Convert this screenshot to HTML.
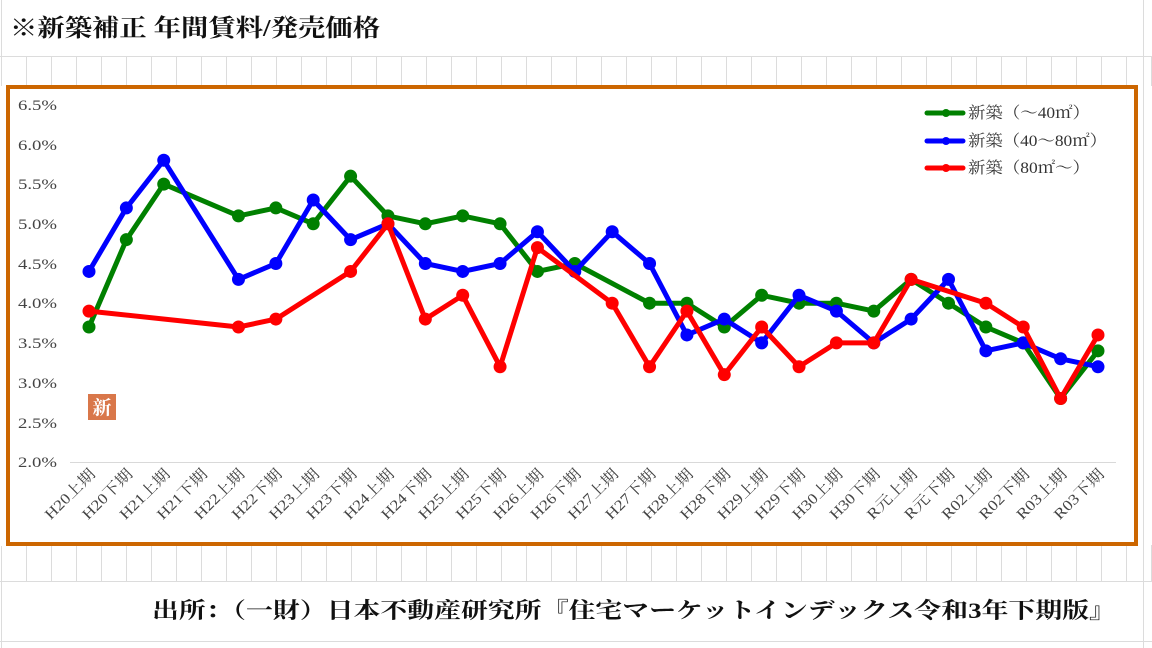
<!DOCTYPE html>
<html><head><meta charset="utf-8"><style>
body{margin:0;width:1152px;height:648px;overflow:hidden;background:#fff;font-family:"Liberation Serif","Noto Serif CJK SC","Noto Sans CJK JP",serif;}
</style></head><body>
<svg width="1152" height="648" viewBox="0 0 1152 648" xmlns="http://www.w3.org/2000/svg" style="position:absolute;left:0;top:0">
<defs>
<pattern id="g" x="1" y="0" width="25" height="648" patternUnits="userSpaceOnUse"><line x1="0.5" y1="0" x2="0.5" y2="648" stroke="#dcdcdc" stroke-width="1"/></pattern>
</defs>
<rect x="0" y="56" width="1152" height="30" fill="url(#g)"/>
<rect x="0" y="545" width="1152" height="36" fill="url(#g)"/>
<g stroke="#dcdcdc" stroke-width="1">
<line x1="0" y1="56.5" x2="1152" y2="56.5"/>
<line x1="0" y1="581.5" x2="1152" y2="581.5"/>
<line x1="0" y1="641.5" x2="1152" y2="641.5"/>
<line x1="1143.5" y1="0" x2="1143.5" y2="648"/>
<line x1="1.5" y1="0" x2="1.5" y2="648"/>
</g>
<text x="10" y="36" font-size="24" font-weight="bold" fill="#111" textLength="370" lengthAdjust="spacingAndGlyphs">※新築補正 年間賃料/発売価格</text>
<rect x="0" y="86" width="1143" height="460" fill="#fff"/>
<rect x="8" y="87" width="1128" height="457" fill="#fff" stroke="#CC6600" stroke-width="4"/>
<g font-size="15" fill="#444">
<text x="18" y="110" textLength="39" lengthAdjust="spacingAndGlyphs">6.5%</text><text x="18" y="150" textLength="39" lengthAdjust="spacingAndGlyphs">6.0%</text><text x="18" y="189" textLength="39" lengthAdjust="spacingAndGlyphs">5.5%</text><text x="18" y="229" textLength="39" lengthAdjust="spacingAndGlyphs">5.0%</text><text x="18" y="269" textLength="39" lengthAdjust="spacingAndGlyphs">4.5%</text><text x="18" y="308" textLength="39" lengthAdjust="spacingAndGlyphs">4.0%</text><text x="18" y="348" textLength="39" lengthAdjust="spacingAndGlyphs">3.5%</text><text x="18" y="388" textLength="39" lengthAdjust="spacingAndGlyphs">3.0%</text><text x="18" y="428" textLength="39" lengthAdjust="spacingAndGlyphs">2.5%</text><text x="18" y="467" textLength="39" lengthAdjust="spacingAndGlyphs">2.0%</text>
</g>
<line x1="70" y1="462.5" x2="1116" y2="462.5" stroke="#d9d9d9" stroke-width="1"/>
<rect x="88" y="394" width="28" height="26" fill="#d9774a"/>
<text x="102" y="414" font-size="19" font-weight="bold" fill="#fff" text-anchor="middle">新</text>
<g id="lab" font-size="15" fill="#444" text-anchor="end"></g>
<g id="series"></g>
<g font-size="16" fill="#333">
<line x1="927" y1="113" x2="963" y2="113" stroke="#008000" stroke-width="5" stroke-linecap="round"/><circle cx="946" cy="113" r="4" fill="#008000"/>
<text x="968" y="118" textLength="122" lengthAdjust="spacingAndGlyphs">新築（～40㎡）</text>
<line x1="927" y1="141" x2="963" y2="141" stroke="#0000ff" stroke-width="5" stroke-linecap="round"/><circle cx="946" cy="141" r="4" fill="#0000ff"/>
<text x="968" y="146" textLength="139" lengthAdjust="spacingAndGlyphs">新築（40～80㎡）</text>
<line x1="927" y1="168" x2="963" y2="168" stroke="#ff0000" stroke-width="5" stroke-linecap="round"/><circle cx="946" cy="168" r="4" fill="#ff0000"/>
<text x="968" y="173" textLength="122" lengthAdjust="spacingAndGlyphs">新築（80㎡～）</text>
</g>
<text x="152" y="618" font-size="22" font-weight="bold" fill="#111" textLength="964" lengthAdjust="spacingAndGlyphs">出所：（一財）日本不動産研究所『住宅マーケットインデックス令和3年下期版』</text>
</svg>
<script>
var labs=["H20上期","H20下期","H21上期","H21下期","H22上期","H22下期","H23上期","H23下期","H24上期","H24下期","H25上期","H25下期","H26上期","H26下期","H27上期","H27下期","H28上期","H28下期","H29上期","H29下期","H30上期","H30下期","R元上期","R元下期","R02上期","R02下期","R03上期","R03下期"];
var n=null;
var G=[3.7,4.8,5.5,n,5.1,5.2,5.0,5.6,5.1,5.0,5.1,5.0,4.4,4.5,n,4.0,4.0,3.7,4.1,4.0,4.0,3.9,4.3,4.0,3.7,3.5,2.8,3.4];
var B=[4.4,5.2,5.8,n,4.3,4.5,5.3,4.8,5.0,4.5,4.4,4.5,4.9,4.4,4.9,4.5,3.6,3.8,3.5,4.1,3.9,3.5,3.8,4.3,3.4,3.5,3.3,3.2];
var R=[3.9,n,n,n,3.7,3.8,n,4.4,5.0,3.8,4.1,3.2,4.7,n,4.0,3.2,3.9,3.1,3.7,3.2,3.5,3.5,4.3,n,4.0,3.7,2.8,3.6];
function X(i){return 89+37.37*i}function Y(v){return 462-(v-2)*79.4}
var ns="http://www.w3.org/2000/svg";
var lg=document.getElementById("lab");
labs.forEach(function(l,i){var t=document.createElementNS(ns,"text");var x=X(i)+7,y=475;t.setAttribute("x",x);t.setAttribute("y",y);t.setAttribute("textLength","64");t.setAttribute("lengthAdjust","spacingAndGlyphs");t.setAttribute("transform","rotate(-45 "+x+" "+y+")");t.textContent=l;lg.appendChild(t);});
var sg=document.getElementById("series");
[[G,"#008000"],[B,"#0000ff"],[R,"#ff0000"]].forEach(function(s){var d=[];s[0].forEach(function(v,i){if(v!==null)d.push(X(i).toFixed(1)+","+Y(v).toFixed(1))});
var p=document.createElementNS(ns,"polyline");p.setAttribute("points",d.join(" "));p.setAttribute("fill","none");p.setAttribute("stroke",s[1]);p.setAttribute("stroke-width","5");p.setAttribute("stroke-linejoin","round");sg.appendChild(p);
s[0].forEach(function(v,i){if(v===null)return;var c=document.createElementNS(ns,"circle");c.setAttribute("cx",X(i));c.setAttribute("cy",Y(v));c.setAttribute("r","6.5");c.setAttribute("fill",s[1]);sg.appendChild(c);});});
</script>
</body></html>
